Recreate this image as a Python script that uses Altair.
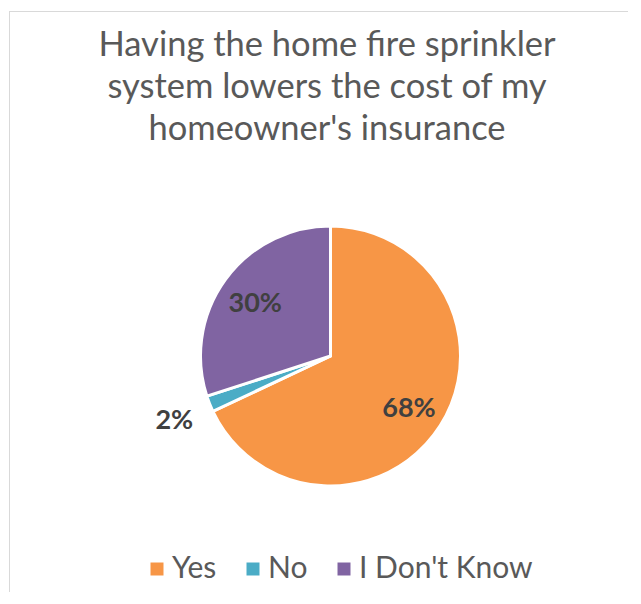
import altair as alt
import pandas as pd

categories = ["Yes", "No", "I Don't Know"]
values = [68, 2, 30]
labels = ["68%", "2%", "30%"]
colors = ["#F79646", "#4BACC6", "#8064A2"]
title_lines = ["Having the home fire sprinkler",
               "system lowers the cost of my",
               "homeowner's insurance"]

W, H = 620, 584
CX, CY = 322.5, 348
FONT = "Lato"

df = pd.DataFrame({"cat": categories, "value": values, "label": labels,
                   "idx": list(range(len(categories)))})
one = pd.DataFrame({"a": [0]})

base = alt.Chart(df)
theta = alt.Theta("value:Q", stack=True)
order = alt.Order("idx:Q")

arcs = base.mark_arc(radius=130, stroke="white", strokeWidth=3).encode(
    theta=theta, order=order,
    color=alt.Color("cat:N", sort=categories,
                    scale=alt.Scale(domain=categories, range=colors),
                    legend=alt.Legend(orient="none", legendX=134, legendY=546,
                                      direction="horizontal", title=None,
                                      symbolType="square", symbolSize=169,
                                      symbolStrokeWidth=0,
                                      labelFont=FONT, labelFontSize=30,
                                      labelLimit=400,
                                      labelColor="#595959", columnPadding=21,
                                      labelOffset=0, padding=0)),
    x=alt.value(CX), y=alt.value(CY))

inner = base.mark_text(radius=93, font=FONT, fontSize=27, fontWeight="bold",
                       color="#404040", dy=3).encode(
    theta=theta, order=order,
    text=alt.condition("datum.cat != 'No'", alt.Text("label:N"), alt.value("")),
    x=alt.value(CX), y=alt.value(CY))

outer = base.mark_text(radius=168, font=FONT, fontSize=27, fontWeight="bold",
                       color="#404040", dy=3).encode(
    theta=theta, order=order,
    text=alt.condition("datum.cat == 'No'", alt.Text("label:N"), alt.value("")),
    x=alt.value(CX), y=alt.value(CY))

title = alt.Chart(one).mark_text(font=FONT, fontSize=34.5, color="#595959",
                                 align="center", baseline="alphabetic",
                                 lineHeight=42).encode(
    text=alt.value(title_lines), x=alt.value(319), y=alt.value(48))

top_rule = alt.Chart(one).mark_rule(color="#d9d9d9", strokeWidth=1).encode(
    x=alt.value(1), x2=alt.value(W), y=alt.value(3.5))
left_rule = alt.Chart(one).mark_rule(color="#d9d9d9", strokeWidth=1).encode(
    x=alt.value(1.5), y=alt.value(3), y2=alt.value(H))

chart = alt.layer(top_rule, left_rule, arcs, inner, outer, title).properties(
    width=W, height=H, padding=0, autosize=alt.AutoSizeParams(type="none")
).configure_view(stroke=None)

chart.save("out.html", embed_options={"renderer": "svg", "actions": False})
